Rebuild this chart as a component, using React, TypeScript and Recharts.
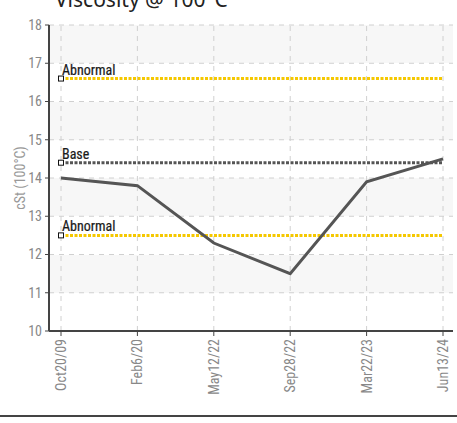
import {
  LineChart,
  Line,
  XAxis,
  YAxis,
  CartesianGrid,
  ReferenceLine,
  ReferenceDot,
} from 'recharts';

// ---------------------------------------------------------------------------
// Data
// ---------------------------------------------------------------------------

const sampleDates = ['Oct20/09', 'Feb6/20', 'May12/22', 'Sep28/22', 'Mar22/23', 'Jun13/24'];
const viscosity = [14.0, 13.8, 12.3, 11.5, 13.9, 14.5];
const yTicks = [10, 11, 12, 13, 14, 15, 16, 17, 18];

const limits = [
  { name: 'Abnormal', value: 16.6, color: '#f5c800' },
  { name: 'Base', value: 14.4, color: '#555555' },
  { name: 'Abnormal', value: 12.5, color: '#f5c800' },
];

const data = sampleDates.map((date, i) => ({ date, cst: viscosity[i] }));

// ---------------------------------------------------------------------------
// Helpers
// ---------------------------------------------------------------------------

const NARROW = '"Liberation Sans Narrow", "Arial Narrow", "Roboto Condensed", sans-serif';

function XTick({ x, y, payload }: any) {
  return (
    <text
      x={x}
      y={y}
      transform={`rotate(-90, ${x}, ${y})`}
      textAnchor="end"
      dominantBaseline="central"
      fill="#888"
      fontSize={14}
      fontFamily={NARROW}
    >
      {payload.value}
    </text>
  );
}

function limitMarker(name: string) {
  return ({ cx, cy }: any) => (
    <g>
      <rect x={cx - 2.5} y={cy - 2.5} width={5} height={5} fill="#fff" stroke="#111" strokeWidth={1} />
      <text x={cx + 1} y={cy - 4} fill="#1a1a1a" fontSize={14} fontFamily={NARROW} stroke="#1a1a1a" strokeWidth={0.2}>
        {name}
      </text>
    </g>
  );
}

// ---------------------------------------------------------------------------
// Component
// ---------------------------------------------------------------------------

export default function App() {
  const first = sampleDates[0];
  const last = sampleDates[sampleDates.length - 1];

  return (
    <div style={{ position: 'absolute', left: 0, top: 0, width: 457, height: 423, background: '#fff', overflow: 'hidden' }}>
      <div
        style={{
          position: 'absolute',
          left: 55,
          top: -15,
          fontFamily: '"Noto Sans", sans-serif',
          fontSize: 21,
          lineHeight: '28px',
          color: '#222',
          whiteSpace: 'nowrap',
        }}
      >
        Viscosity @ 100°C
      </div>
      <div style={{ position: 'absolute', left: 0, top: 0 }}>
        <LineChart width={457} height={423} data={data} margin={{ top: 25, right: 4, bottom: 22, left: 0 }}>
          <CartesianGrid
            stroke="#d0d0d0"
            strokeDasharray="5 5"
            horizontalFill={['#f7f7f7', '#ffffff']}
            fillOpacity={1}
            vertical={false}
          />
          {/* vertical grid only at the sample dates */}
          {sampleDates.map((d) => (
            <ReferenceLine key={`v-${d}`} x={d} stroke="#d0d0d0" strokeDasharray="5 5" />
          ))}
          <XAxis
            dataKey="date"
            type="category"
            padding={{ left: 12, right: 10 }}
            height={70}
            interval={0}
            tick={<XTick />}
            tickSize={5}
            tickMargin={3}
            axisLine={{ stroke: '#444', strokeWidth: 2 }}
            tickLine={{ stroke: '#444' }}
          />
          <YAxis
            type="number"
            domain={[10, 18]}
            ticks={yTicks}
            width={49}
            tickSize={4}
            tickMargin={3}
            tick={{ fill: '#888', fontSize: 14, fontFamily: NARROW }}
            axisLine={{ stroke: '#444', strokeWidth: 2 }}
            tickLine={{ stroke: '#444' }}
            label={({ viewBox }: any) => (
              <text
                x={viewBox.x + 20}
                y={viewBox.y + viewBox.height / 2}
                transform={`rotate(-90, ${viewBox.x + 20}, ${viewBox.y + viewBox.height / 2})`}
                textAnchor="middle"
                dominantBaseline="central"
                fill="#999"
                fontSize={14}
                fontFamily={NARROW}
              >
                cSt (100°C)
              </text>
            )}
          />
          {limits.map((l, i) => (
            <ReferenceLine
              key={`line-${i}`}
              segment={[
                { x: first, y: l.value },
                { x: last, y: l.value },
              ]}
              stroke={l.color}
              strokeWidth={3}
              strokeDasharray="3 1.5"
            />
          ))}
          <Line
            type="linear"
            dataKey="cst"
            stroke="#555"
            strokeWidth={3}
            dot={false}
            activeDot={false}
            isAnimationActive={false}
          />
          {limits.map((l, i) => (
            <ReferenceDot key={`dot-${i}`} x={first} y={l.value} r={3} shape={limitMarker(l.name)} />
          ))}
        </LineChart>
      </div>
      <div style={{ position: 'absolute', left: 0, top: 415, width: 457, height: 2, background: '#444' }} />
    </div>
  );
}
